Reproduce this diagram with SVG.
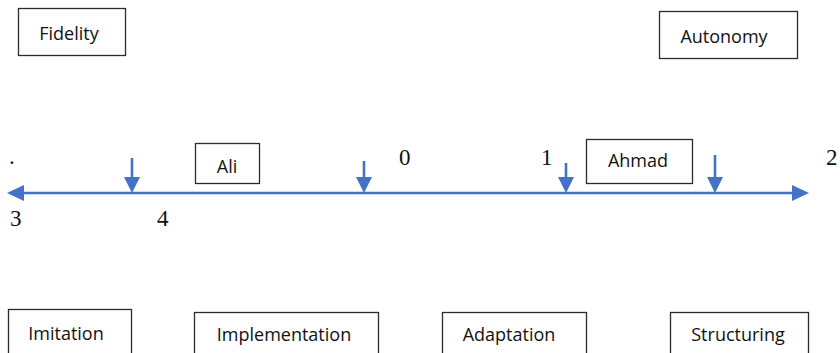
<svg xmlns="http://www.w3.org/2000/svg" width="840" height="353" viewBox="0 0 840 353">
<style>
.box{fill:#fff;stroke:#2b2b2b;stroke-width:1.3}
.lbl{font-family:"Open Sans","Liberation Sans",sans-serif;font-size:18px;fill:#111;text-anchor:middle}
.num{font-family:"Liberation Serif","Times New Roman",serif;font-size:23px;fill:#111}
.ln{stroke:#4472C4;stroke-width:2.6;fill:none}
.ah{fill:#4472C4}
</style>
<rect width="840" height="353" fill="#fff"/>
<g id="fidelity"><rect class="box" x="18.5" y="8.5" width="107" height="47"/><text class="lbl" x="69" y="40" font-size="17">Fidelity</text></g>
<g id="autonomy"><rect class="box" x="659.5" y="11.5" width="138" height="47"/><text class="lbl" x="724" y="43" font-size="17">Autonomy</text></g>
<g id="ali"><rect class="box" x="195.5" y="143.5" width="64" height="40"/><text class="lbl" x="227" y="173" font-size="16">Ali</text></g>
<g id="ahmad"><rect class="box" x="586.5" y="139.5" width="106" height="44"/><text class="lbl" x="638" y="167" font-size="16">Ahmad</text></g>
<g id="imitation"><rect class="box" x="8.5" y="309.5" width="123" height="60"/><text class="lbl" x="66" y="340">Imitation</text></g>
<g id="implementation"><rect class="box" x="194.5" y="312.5" width="184" height="60"/><text class="lbl" x="284" y="341">Implementation</text></g>
<g id="adaptation"><rect class="box" x="442.5" y="312.5" width="144" height="60"/><text class="lbl" x="509" y="341">Adaptation</text></g>
<g id="structuring"><rect class="box" x="670.5" y="312.5" width="138" height="60"/><text class="lbl" x="738" y="341">Structuring</text></g>
<g id="numbers">
<text class="num" x="9" y="164">.</text>
<text class="num" x="399" y="165">0</text>
<text class="num" x="541" y="165">1</text>
<text class="num" x="826" y="165">2</text>
<text class="num" x="10" y="226">3</text>
<text class="num" x="157" y="226">4</text>
</g>
<g id="connectors">
<line class="ln" x1="22" y1="193" x2="794" y2="193"/>
<polygon class="ah" points="7,193 24,185 24,201"/>
<polygon class="ah" points="809,193 792,185 792,201"/>
<line class="ln" x1="132" y1="158" x2="132" y2="180"/>
<polygon class="ah" points="124,177 140,177 132,193"/>
<line class="ln" x1="364" y1="161" x2="364" y2="180"/>
<polygon class="ah" points="356,177 372,177 364,193"/>
<line class="ln" x1="566" y1="163" x2="566" y2="180"/>
<polygon class="ah" points="558,177 574,177 566,193"/>
<line class="ln" x1="715" y1="155" x2="715" y2="180"/>
<polygon class="ah" points="707,177 723,177 715,193"/>
</g>
</svg>
